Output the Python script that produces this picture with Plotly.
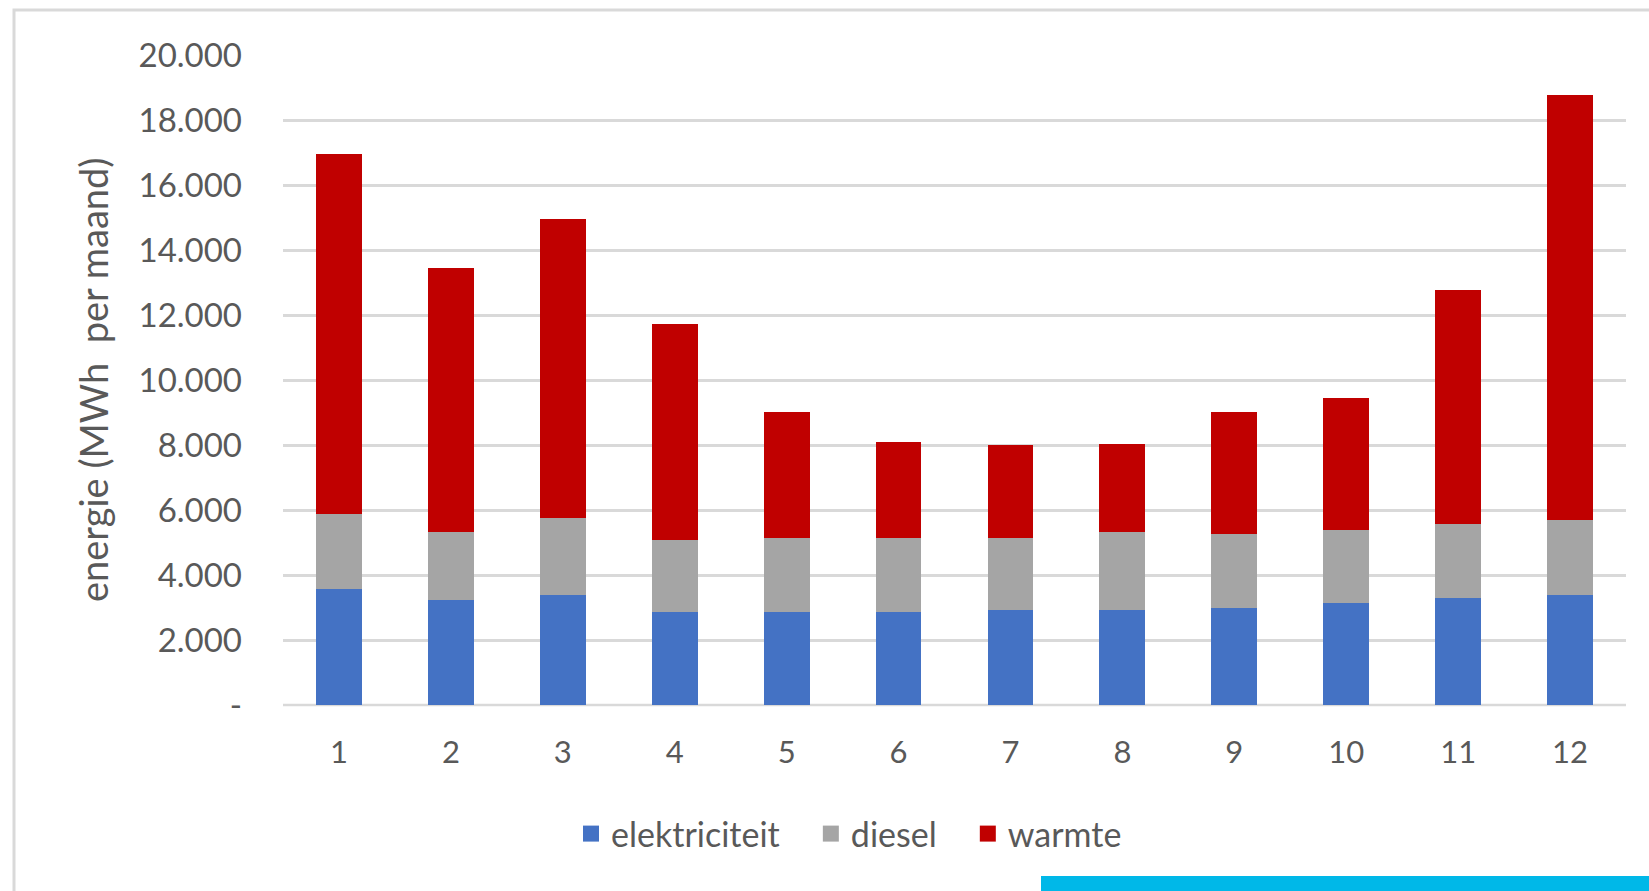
import plotly.graph_objects as go

# Monthly energy use (MWh per month), stacked by carrier
maanden = ["1", "2", "3", "4", "5", "6", "7", "8", "9", "10", "11", "12"]
elektriciteit = [3580, 3220, 3400, 2850, 2850, 2850, 2920, 2920, 2970, 3150, 3280, 3400]
diesel = [2290, 2110, 2345, 2230, 2295, 2295, 2230, 2400, 2300, 2240, 2290, 2300]
warmte = [11080, 8110, 9205, 6640, 3875, 2955, 2840, 2720, 3760, 4050, 7200, 13080]

y_tickvals = [0, 2000, 4000, 6000, 8000, 10000, 12000, 14000, 16000, 18000, 20000]
y_ticktext = ["-", "2.000", "4.000", "6.000", "8.000", "10.000", "12.000",
              "14.000", "16.000", "18.000", "20.000"]

W, H = 1649, 891
L, R, T, B = 283, 1626, 55, 705  # plot area in pixels


def px(x):
    return (x - L) / (R - L)


def py(y):
    return (B - y) / (B - T)


FONT = "Lato, 'Open Sans', sans-serif"
TXT = "#595959"
PAD = "\u00a0" * 3  # extra room between legend entries

series = [("elektriciteit", elektriciteit, "#4472C4", PAD),
          ("diesel", diesel, "#A5A5A5", PAD),
          ("warmte", warmte, "#C00000", "")]

fig = go.Figure()
for name, vals, col, _ in series:
    fig.add_trace(go.Bar(x=maanden, y=vals, name=name, marker_color=col,
                         marker_line_width=0, showlegend=False,
                         legendgroup=name))
# legend entries with square swatches
for name, vals, col, pad in series:
    fig.add_trace(go.Scatter(x=[None], y=[None], mode="markers",
                             name=name + pad, legendgroup=name,
                             marker=dict(symbol="square", size=16, color=col)))

fig.update_layout(
    width=W, height=H,
    margin=dict(l=L, r=W - R, t=T, b=H - B, autoexpand=False),
    barmode="stack", bargap=0.59,
    plot_bgcolor="white", paper_bgcolor="white",
    font=dict(family=FONT, size=33, color=TXT),
    showlegend=True,
    legend=dict(orientation="h", x=px(849), xanchor="center",
                y=py(834), yanchor="middle",
                font=dict(size=34, color=TXT), itemsizing="trace",
                traceorder="normal", itemwidth=30,
                bgcolor="rgba(0,0,0,0)"),
    xaxis=dict(type="category", showgrid=False, showline=False, zeroline=False,
               ticks="", ticklabelstandoff=26,
               tickfont=dict(size=31, color=TXT)),
    yaxis=dict(range=[0, 20000], tickvals=y_tickvals, ticktext=y_ticktext,
               showgrid=True, gridcolor="#D9D9D9", gridwidth=2.5,
               zeroline=False, showline=False, ticks="",
               ticklabelstandoff=40,
               tickfont=dict(size=33, color=TXT)),
    annotations=[dict(text="energie (MWh  per maand)", textangle=-90,
                      xref="paper", yref="paper", x=px(93), y=py(380),
                      xanchor="center", yanchor="middle", showarrow=False,
                      font=dict(size=38, color=TXT, family=FONT))],
    shapes=[
        # baseline
        dict(type="line", xref="paper", yref="paper", x0=0, x1=1, y0=0, y1=0,
             line=dict(color="#D9D9D9", width=2.5), layer="below"),
        # chart frame
        dict(type="rect", xref="paper", yref="paper",
             x0=px(14), x1=px(1670), y0=py(10), y1=py(910),
             line=dict(color="#D9D9D9", width=3), fillcolor="rgba(0,0,0,0)"),
        # accent strip
        dict(type="rect", xref="paper", yref="paper",
             x0=px(1041), x1=px(1670), y0=py(876), y1=py(910),
             line=dict(width=0), fillcolor="#00B8E8"),
    ],
)

fig.write_html("out.html")
